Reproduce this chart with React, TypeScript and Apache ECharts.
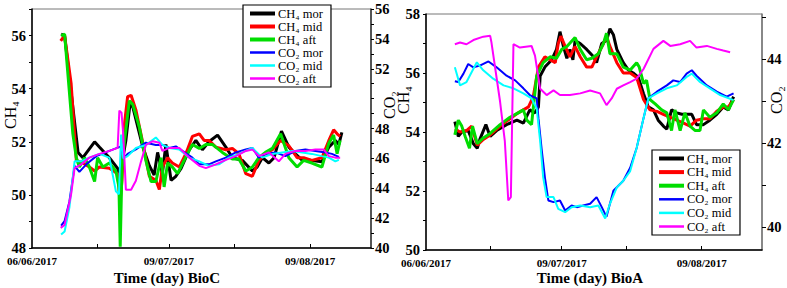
import React, { useEffect, useRef } from "react";
import * as echarts from "echarts";

type P = [number, number];

// x = days from 06/06/2017 (as placed on the original axis)
const xTickValues = [0, 31.5, 64];
const xTickLabels = ["06/06/2017", "09/07/2017", "09/08/2017"];
const xMinorTicks = [15, 31.5, 46.5, 64];

const seriesNames = ["CH₄ mor", "CH₄ mid", "CH₄ aft", "CO₂ mor", "CO₂ mid", "CO₂ aft"];
const seriesColors = ["#000000", "#ff0000", "#00dd00", "#0000ff", "#00ffff", "#ff00ff"];
const seriesWidths = [3, 3, 3, 2, 2, 2];
const legendWidths = [4, 4, 4, 2.5, 2.5, 2.5];

// ---- BioC (left panel) ----
const bioC_CH4_mor: P[] = [[6.7,56.05],[7.5,56.0],[10.6,51.6],[11.7,51.4],[14.4,52.0],[15.5,51.8],[17.8,51.4],[19.7,51.0],[20.3,50.55],[20.7,51.2],[21.6,52.05],[22.6,53.5],[23.2,53.3],[25.5,51.8],[27.0,51.1],[28.1,50.75],[28.9,51.6],[30.0,50.8],[30.8,51.9],[32.0,50.55],[33.1,50.7],[34.3,51.0],[36.2,51.7],[37.7,52.05],[39.2,51.7],[40.7,52.0],[42.7,52.25],[44.6,51.8],[46.1,51.4],[48.4,51.3],[50.7,50.9],[51.8,51.05],[53.0,51.4],[54.5,51.2],[55.7,51.4],[57.4,52.4],[59.1,51.8],[60.6,51.55],[62.2,51.3],[64.1,51.3],[66.7,51.25],[68.3,51.8],[69.8,52.05],[70.6,51.9],[71.3,52.35]];
const bioC_CH4_mid: P[] = [[6.6,55.8],[7.5,56.0],[9.0,54.2],[10.2,51.3],[11.7,51.2],[13.2,51.05],[14.4,50.9],[15.5,51.05],[17.8,51.0],[19.7,50.8],[20.3,49.8],[20.7,50.55],[21.3,52.7],[22.0,53.7],[22.8,53.75],[23.9,53.2],[25.5,51.95],[27.0,50.7],[28.5,50.55],[29.3,50.2],[30.0,51.05],[31.2,51.4],[32.3,51.2],[33.9,51.05],[35.4,51.55],[36.9,52.2],[38.5,52.3],[39.6,52.05],[40.7,52.05],[42.3,51.8],[44.6,51.7],[46.1,51.75],[47.6,51.55],[49.2,50.8],[50.7,50.7],[52.2,51.3],[53.7,51.55],[55.3,51.7],[57.2,52.05],[59.1,51.85],[61.0,51.4],[62.5,51.4],[64.4,51.3],[66.7,51.4],[68.3,52.05],[69.4,52.45],[70.2,52.3],[70.9,52.2]];
const bioC_CH4_aft: P[] = [[6.7,56.0],[7.5,56.05],[9.4,52.3],[10.2,51.4],[10.9,51.05],[12.1,51.4],[13.2,51.05],[14.4,50.5],[15.1,51.4],[16.3,51.05],[17.8,51.2],[19.3,50.9],[20.0,50.3],[20.3,48.05],[20.7,51.05],[21.3,52.05],[22.4,53.55],[23.2,53.4],[24.7,52.55],[26.2,51.3],[27.4,50.5],[28.5,50.5],[29.7,51.4],[30.4,50.3],[31.2,51.2],[32.3,51.05],[33.5,50.8],[35.0,51.3],[36.9,51.9],[38.5,51.75],[40.0,51.9],[41.5,51.9],[43.8,51.6],[46.1,51.35],[47.6,51.35],[49.2,50.9],[50.7,51.05],[52.2,51.4],[53.7,51.6],[55.3,51.75],[57.2,52.3],[59.1,51.4],[61.0,51.05],[62.5,51.3],[64.4,51.2],[66.7,51.05],[68.3,51.95],[69.4,52.25],[70.2,51.55],[70.9,52.05]];
const bioC_CO2_mor: P[] = [[6.7,41.5],[7.5,41.8],[8.6,43.1],[9.8,45.5],[10.9,45.1],[12.5,45.6],[14.8,46.15],[17.8,46.5],[20.5,46.8],[21.0,46.0],[22.0,46.3],[23.9,46.6],[26.2,47.05],[28.5,46.9],[30.0,46.9],[31.6,46.7],[33.1,46.8],[34.6,46.5],[36.9,46.05],[38.5,45.6],[40.7,45.6],[42.3,45.8],[44.6,46.05],[46.9,46.4],[49.2,46.6],[50.7,46.7],[52.2,46.05],[53.7,46.3],[56.0,46.4],[58.3,46.15],[60.6,46.5],[62.9,46.6],[65.2,46.5],[67.5,46.4],[69.0,46.3],[70.6,46.1]];
const bioC_CO2_mid: P[] = [[6.7,40.9],[7.5,41.1],[8.6,42.7],[9.8,45.8],[11.3,45.8],[13.2,46.05],[15.5,46.3],[17.8,46.05],[19.3,43.8],[20.0,43.6],[20.5,47.6],[21.0,46.0],[22.0,46.15],[23.9,46.7],[26.2,46.9],[28.5,47.4],[30.0,46.9],[31.6,46.7],[33.9,46.6],[36.2,46.05],[38.5,45.8],[40.7,45.5],[43.0,45.6],[45.3,46.05],[47.6,46.3],[50.7,46.7],[53.0,46.05],[55.3,46.3],[57.6,46.4],[59.9,46.5],[62.2,46.4],[64.4,46.3],[66.7,46.15],[68.3,46.05],[69.8,45.8],[70.6,45.9]];
const bioC_CO2_aft: P[] = [[6.6,41.35],[7.5,41.55],[9.0,43.6],[9.8,45.35],[11.3,45.6],[13.2,46.05],[15.5,46.3],[17.8,46.5],[19.7,46.7],[20.1,49.2],[20.6,49.05],[21.0,47.6],[21.6,43.9],[22.8,43.9],[23.9,44.5],[25.1,45.8],[26.2,46.9],[27.8,47.15],[29.3,47.05],[30.0,46.5],[31.6,46.7],[33.9,46.7],[36.2,46.05],[38.5,45.5],[40.0,45.35],[42.3,45.6],[44.6,45.9],[46.9,46.15],[49.2,46.5],[50.7,46.6],[52.2,46.15],[54.5,46.4],[56.8,45.8],[58.3,46.3],[60.6,46.5],[62.9,46.5],[65.2,46.6],[67.1,46.6],[68.3,46.15],[69.8,46.05],[70.9,46.05]];

// ---- BioA (right panel) ----
const bioA_CH4_mor: P[] = [[6.7,54.35],[7.5,53.85],[8.3,54.0],[9.8,54.05],[11.0,53.6],[11.9,53.45],[12.5,53.75],[13.9,54.25],[14.9,53.85],[16.4,54.05],[18.7,54.25],[21.1,54.4],[22.6,54.3],[24.1,54.75],[25.3,54.65],[26.1,54.85],[26.5,55.9],[27.6,56.2],[29.2,56.45],[30.3,56.8],[31.1,57.4],[31.9,56.9],[32.7,56.5],[33.4,56.8],[34.1,56.45],[34.6,57.1],[35.8,57.0],[37.3,56.8],[38.9,56.55],[39.6,56.35],[40.8,57.0],[41.9,57.1],[42.7,57.5],[43.5,57.3],[44.3,56.8],[45.8,56.35],[47.0,56.1],[48.1,56.0],[49.3,55.85],[50.5,55.3],[51.6,54.85],[52.8,54.75],[53.9,54.4],[55.1,54.2],[55.9,54.1],[57.0,54.75],[58.2,54.65],[59.4,54.6],[60.5,54.6],[61.7,54.6],[62.8,54.25],[64.4,54.25],[65.9,54.4],[67.5,54.6],[69.0,54.85],[70.2,54.75],[71.4,55.2]];
const bioA_CH4_mid: P[] = [[6.7,54.1],[7.9,54.0],[9.4,54.05],[10.6,54.2],[11.9,53.55],[13.3,53.75],[14.9,53.9],[17.2,54.2],[19.5,54.45],[21.4,54.65],[22.6,54.75],[23.8,54.85],[24.9,55.2],[26.1,56.2],[27.6,56.55],[28.8,56.45],[30.0,56.35],[30.7,57.0],[31.3,57.25],[32.3,56.9],[33.4,56.55],[34.6,56.9],[35.8,56.55],[37.3,56.2],[38.5,56.2],[39.6,56.55],[41.2,57.0],[41.9,57.25],[42.7,56.9],[44.3,56.35],[45.8,56.0],[47.4,56.0],[48.9,55.85],[50.5,55.1],[52.0,54.75],[53.6,54.7],[55.1,54.6],[56.7,54.5],[58.2,54.4],[59.8,54.3],[61.3,54.2],[62.8,54.4],[64.4,54.45],[65.9,54.45],[67.5,54.7],[69.0,54.85],[70.2,54.85],[71.4,55.1]];
const bioA_CH4_aft: P[] = [[6.7,53.9],[7.5,54.4],[8.3,54.2],[9.1,53.85],[10.1,53.45],[10.8,54.2],[11.9,53.6],[13.3,53.8],[14.9,53.95],[17.2,54.25],[19.5,54.5],[21.4,54.65],[22.6,54.75],[23.4,54.4],[24.5,54.25],[25.7,55.9],[27.2,56.35],[28.8,56.55],[30.3,56.5],[31.5,56.8],[32.7,56.9],[34.6,57.2],[35.8,56.8],[37.3,56.45],[38.5,56.5],[40.0,56.65],[41.2,57.0],[41.9,57.35],[42.7,56.65],[44.3,56.65],[45.8,56.2],[47.4,56.1],[48.9,56.35],[49.5,56.2],[50.5,55.65],[51.2,55.75],[52.0,55.1],[53.2,54.95],[54.7,54.75],[55.9,54.65],[57.0,54.05],[57.8,54.75],[59.0,54.05],[60.1,54.65],[61.3,54.2],[62.5,54.05],[63.6,54.05],[64.4,54.75],[65.9,54.5],[67.5,54.65],[69.0,54.95],[70.2,54.75],[71.4,55.1]];
const bioA_CO2_mor: P[] = [[6.7,43.47],[7.5,43.45],[8.7,43.65],[9.8,43.88],[11.0,43.8],[12.5,43.84],[14.5,43.94],[16.4,43.8],[18.7,43.6],[20.7,43.49],[22.6,43.3],[24.1,43.14],[25.7,43.06],[26.1,42.59],[26.9,41.8],[27.6,41.18],[28.4,40.63],[29.6,40.59],[31.1,40.63],[32.3,40.39],[33.8,40.51],[35.0,40.47],[36.5,40.51],[38.1,40.55],[39.6,40.71],[40.8,40.47],[41.9,40.24],[43.5,40.86],[45.8,41.1],[47.4,41.41],[48.9,41.88],[50.5,42.59],[51.6,43.06],[53.6,43.22],[55.9,43.37],[57.4,43.49],[59.0,43.45],[60.5,43.65],[61.7,43.73],[62.8,43.6],[65.2,43.37],[67.5,43.22],[69.8,43.1],[71.4,43.18]];
const bioA_CO2_mid: P[] = [[6.7,43.8],[7.9,43.37],[9.4,43.45],[11.8,43.92],[13.3,43.73],[15.6,43.53],[18.0,43.37],[20.3,43.3],[22.6,43.18],[24.5,43.06],[25.7,42.82],[26.5,42.04],[27.2,41.18],[28.0,40.71],[29.6,40.71],[30.7,40.43],[32.3,40.35],[33.8,40.47],[35.8,40.51],[38.1,40.47],[40.0,40.51],[41.6,40.2],[42.7,40.55],[44.3,40.94],[45.8,41.1],[47.4,41.33],[48.9,41.88],[50.5,42.59],[51.6,43.06],[53.6,43.18],[55.9,43.3],[58.2,43.37],[60.5,43.57],[61.7,43.65],[63.6,43.45],[65.9,43.3],[68.3,43.14],[71.4,43.02]];
const bioA_CO2_aft: P[] = [[6.7,44.35],[7.9,44.39],[9.4,44.35],[11.0,44.45],[13.3,44.53],[14.9,44.55],[15.2,44.39],[17.2,42.98],[18.3,42.04],[19.1,40.63],[19.7,40.71],[20.3,44.35],[21.8,44.27],[24.5,44.31],[25.3,44.08],[26.5,43.29],[28.0,43.14],[29.6,43.25],[31.1,43.14],[33.4,43.14],[35.8,43.18],[38.1,43.25],[40.4,43.18],[41.9,42.9],[43.1,43.06],[44.3,43.29],[45.8,43.37],[47.4,43.45],[48.9,43.53],[50.5,43.76],[52.8,44.24],[55.1,44.43],[56.7,44.31],[59.0,44.35],[61.3,44.43],[62.8,44.27],[65.2,44.31],[67.5,44.24],[69.0,44.2],[70.6,44.16]];

const bioARightLabels = [40, 42, 44];
const bioARightTicks = [40, 41, 42, 43, 44, 45];

const FONT = '"Liberation Serif", "Times New Roman", serif';

function makeX(gridIndex: number) {
  return {
    type: "value",
    gridIndex,
    min: 0,
    max: 78,
    axisLine: { show: true, lineStyle: { color: "#000", width: 1.5 } },
    axisTick: { show: true, inside: true, length: 4, customValues: xMinorTicks, lineStyle: { color: "#000" } },
    axisLabel: {
      show: true,
      customValues: xTickValues,
      margin: 7.5,
      color: "#000",
      fontFamily: FONT,
      fontWeight: "bold",
      fontSize: 11,
      formatter: (v: number) => {
        const i = xTickValues.findIndex((t) => Math.abs(t - v) < 0.01);
        return i >= 0 ? xTickLabels[i] : "";
      },
    },
    splitLine: { show: false },
  };
}

function makeY(gridIndex: number, position: string, min: number, max: number, labelFilter: (v: number) => boolean, lineColor: string, margin: number) {
  return {
    type: "value",
    gridIndex,
    position,
    min,
    max,
    interval: 1,
    axisLine: { show: true, onZero: false, lineStyle: { color: lineColor, width: 1.5 } },
    axisTick: { show: true, inside: false, length: 3, lineStyle: { color: "#000" } },
    axisLabel: {
      margin,
      color: "#000",
      fontFamily: FONT,
      fontWeight: "bold",
      fontSize: 14.5,
      formatter: (v: number) => (labelFilter(v) ? String(v) : ""),
    },
    splitLine: { show: false },
  };
}

function buildSeries(datas: P[][], xAxisIndex: number, yIdx: [number, number]) {
  return datas.map((d, i) => ({
    type: "line",
    name: seriesNames[i],
    data: d,
    xAxisIndex,
    yAxisIndex: i < 3 ? yIdx[0] : yIdx[1],
    symbol: "none",
    showSymbol: false,
    lineStyle: { color: seriesColors[i], width: seriesWidths[i] },
    itemStyle: { color: seriesColors[i] },
    z: i < 3 ? 3 : 4,
  }));
}

function legend(left: number, top: number, gap: number) {
  return {
    left,
    top,
    orient: "vertical",
    data: seriesNames.map((n, i) => ({
      name: n,
      itemStyle: { opacity: 0 },
      lineStyle: { width: legendWidths[i], color: seriesColors[i] },
    })),
    itemWidth: 25,
    itemHeight: 12,
    itemGap: gap,
    padding: [2, 8, 2, 5],
    borderColor: "#000",
    borderWidth: 1.2,
    backgroundColor: "#fff",
    selectedMode: false,
    itemStyle: { opacity: 0 },
    textStyle: { fontFamily: FONT, fontSize: 12.5, color: "#000", padding: [0, 0, 0, -2] },
  };
}

export default function App() {
  const ref = useRef<HTMLDivElement>(null);
  useEffect(() => {
    document.body.style.margin = "0";
    if (!ref.current) return;
    const chart = echarts.init(ref.current, null, { renderer: "svg" });
    const even = (v: number) => Math.abs(v % 2) < 1e-6;
    chart.setOption({
      animation: false,
      backgroundColor: "#fff",
      grid: [
        { left: 32, top: 9, width: 339, height: 239, show: true, borderColor: "#777", borderWidth: 1 },
        { left: 426, top: 14, width: 336, height: 236, show: true, borderColor: "#777", borderWidth: 1 },
      ],
      xAxis: [makeX(0), makeX(1)],
      yAxis: [
        makeY(0, "left", 48, 57, (v) => even(v) && v <= 56, "#000", 6),
        makeY(0, "right", 40, 56, (v) => even(v) && v !== 50, "#333", 4),
        makeY(1, "left", 50, 58, (v) => even(v), "#000", 6),
        {
          type: "value",
          gridIndex: 1,
          position: "right",
          min: 39.45,
          max: 45.07,
          axisLine: { show: true, onZero: false, lineStyle: { color: "#777", width: 1.5 } },
          axisTick: { show: true, inside: false, length: 4, customValues: bioARightTicks, lineStyle: { color: "#000" } },
          axisLabel: { customValues: bioARightLabels, margin: 5, color: "#000", fontFamily: FONT, fontWeight: "bold", fontSize: 14.5 },
          splitLine: { show: false },
        },
      ],
      legend: [legend(243, 5, 0), legend(652, 150, 0.6)],
      graphic: [
        { type: "text", x: 10, y: 115, rotation: Math.PI / 2, style: { text: "CH₄", font: `16px ${FONT}`, fill: "#000", textAlign: "center", textVerticalAlign: "middle" } },
        { type: "text", x: 389, y: 105, rotation: Math.PI / 2, style: { text: "CO₂", font: `16px ${FONT}`, fill: "#000", textAlign: "center", textVerticalAlign: "middle" } },
        { type: "text", x: 403, y: 100, rotation: Math.PI / 2, style: { text: "CH₄", font: `16px ${FONT}`, fill: "#000", textAlign: "center", textVerticalAlign: "middle" } },
        { type: "text", x: 776, y: 100, rotation: Math.PI / 2, style: { text: "CO₂", font: `16px ${FONT}`, fill: "#000", textAlign: "center", textVerticalAlign: "middle" } },
        { type: "text", x: 167, y: 278, style: { text: "Time (day) BioC", font: `bold 15px ${FONT}`, fill: "#000", textAlign: "center", textVerticalAlign: "middle" } },
        { type: "text", x: 590, y: 278, style: { text: "Time (day) BioA", font: `bold 15px ${FONT}`, fill: "#000", textAlign: "center", textVerticalAlign: "middle" } },
      ],
      series: [
        ...buildSeries([bioC_CH4_mor, bioC_CH4_mid, bioC_CH4_aft, bioC_CO2_mor, bioC_CO2_mid, bioC_CO2_aft], 0, [0, 1]),
        ...buildSeries([bioA_CH4_mor, bioA_CH4_mid, bioA_CH4_aft, bioA_CO2_mor, bioA_CO2_mid, bioA_CO2_aft], 1, [2, 3]),
      ],
    });
    return () => chart.dispose();
  }, []);
  return <div ref={ref} style={{ width: 787, height: 288 }} />;
}
